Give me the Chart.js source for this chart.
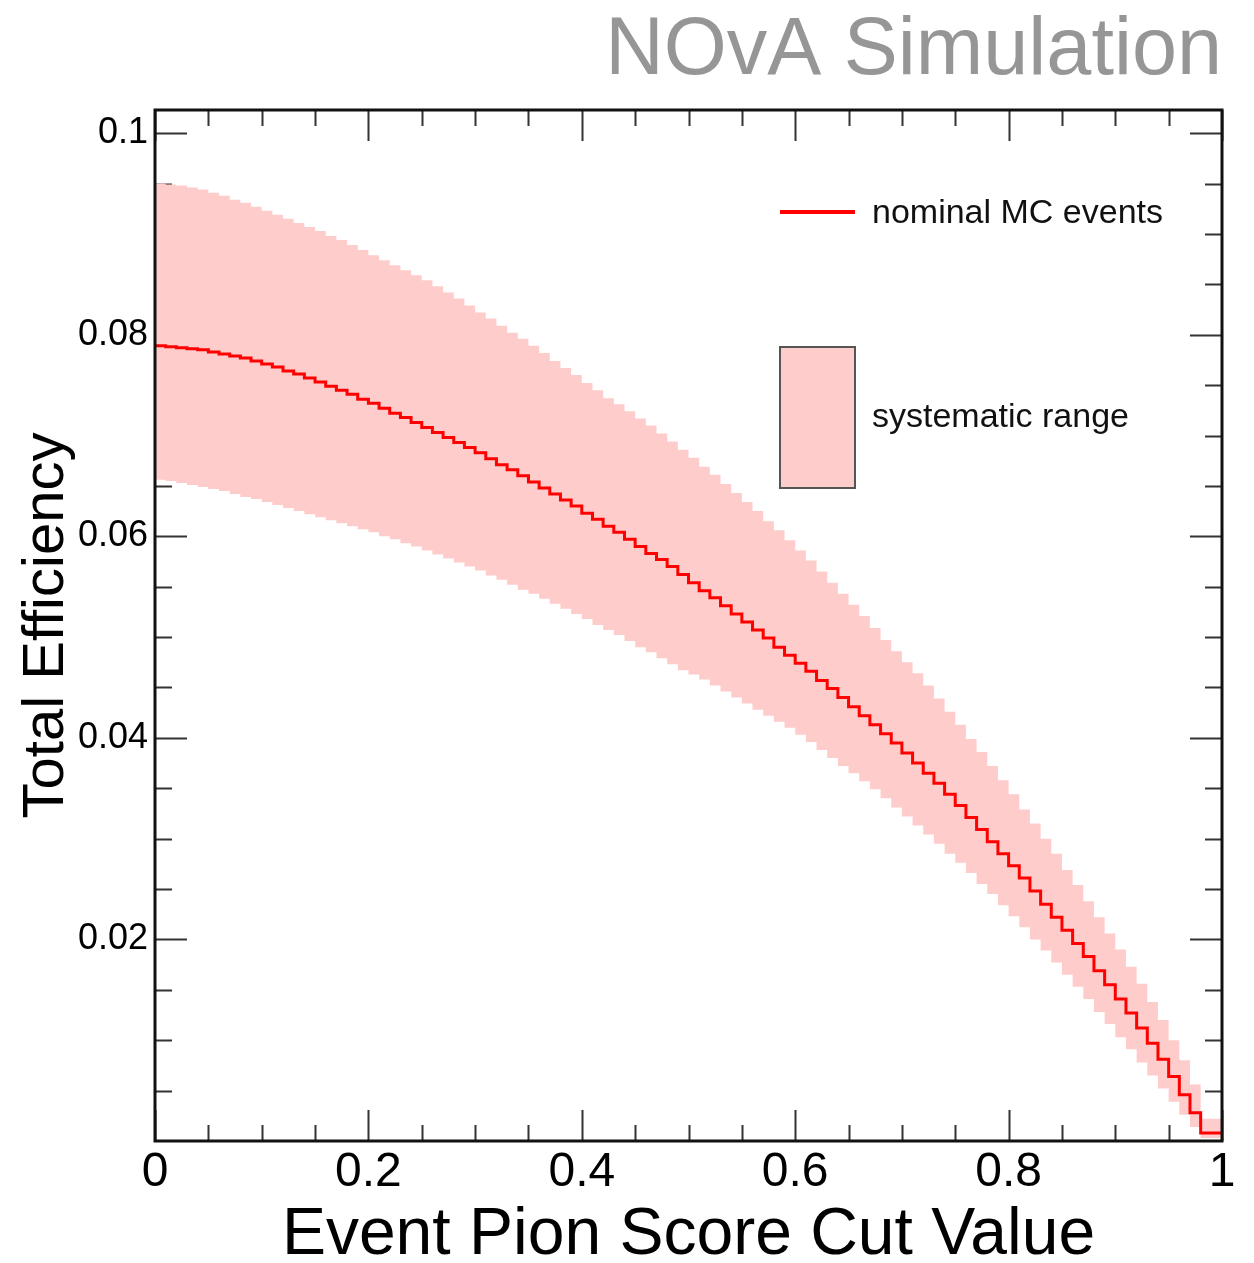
<!DOCTYPE html>
<html>
<head>
<meta charset="utf-8">
<title>NOvA Simulation - Total Efficiency</title>
<script src="https://cdn.jsdelivr.net/npm/chart.js@4.4.1/dist/chart.umd.min.js"></script>
<style>
  html, body { margin: 0; padding: 0; background: #fff; }
  #wrap { width: 1254px; height: 1263px; }
</style>
</head>
<body>
<div id="wrap"><canvas id="effChart" width="1254" height="1263"></canvas></div>
<script>
/* Total efficiency vs event pion score cut (100 bins, 0..1) */

const nBins = 100;
const binWidth = 0.01;

// nominal MC events, one value per bin
const nominal = [
  0.0789, 0.0789, 0.0788, 0.0787, 0.0786, 0.0785, 0.0783, 0.0781, 0.0779, 0.0777,
  0.0774, 0.0771, 0.0768, 0.0764, 0.0761, 0.0757, 0.0753, 0.0749, 0.0745, 0.0741,
  0.0736, 0.0732, 0.0727, 0.0722, 0.0718, 0.0713, 0.0708, 0.0703, 0.0698, 0.0693,
  0.0688, 0.0683, 0.0677, 0.0671, 0.0666, 0.0660, 0.0654, 0.0648, 0.0642, 0.0636,
  0.0630, 0.0623, 0.0617, 0.0610, 0.0604, 0.0597, 0.0590, 0.0583, 0.0577, 0.0570,
  0.0562, 0.0554, 0.0546, 0.0539, 0.0531, 0.0523, 0.0515, 0.0507, 0.0499, 0.0490,
  0.0482, 0.0474, 0.0466, 0.0457, 0.0449, 0.0440, 0.0431, 0.0422, 0.0413, 0.0404,
  0.0395, 0.0385, 0.0375, 0.0365, 0.0355, 0.0344, 0.0333, 0.0321, 0.0309, 0.0297,
  0.0285, 0.0273, 0.0261, 0.0248, 0.0235, 0.0222, 0.0209, 0.0196, 0.0183, 0.0169,
  0.0155, 0.0141, 0.0127, 0.0112, 0.0097, 0.0081, 0.0064, 0.0046, 0.0028, 0.0008
];

// systematic range, upper edge
const sysUpper = [
  0.0950, 0.0950, 0.0949, 0.0948, 0.0946, 0.0944, 0.0941, 0.0938, 0.0934, 0.0931,
  0.0927, 0.0923, 0.0919, 0.0915, 0.0911, 0.0907, 0.0903, 0.0898, 0.0894, 0.0889,
  0.0884, 0.0879, 0.0874, 0.0869, 0.0864, 0.0859, 0.0854, 0.0848, 0.0842, 0.0836,
  0.0829, 0.0822, 0.0816, 0.0809, 0.0802, 0.0796, 0.0789, 0.0782, 0.0774, 0.0767,
  0.0760, 0.0752, 0.0745, 0.0737, 0.0731, 0.0724, 0.0717, 0.0710, 0.0702, 0.0694,
  0.0686, 0.0678, 0.0669, 0.0661, 0.0652, 0.0643, 0.0634, 0.0625, 0.0615, 0.0606,
  0.0596, 0.0586, 0.0576, 0.0565, 0.0554, 0.0543, 0.0532, 0.0521, 0.0509, 0.0497,
  0.0486, 0.0475, 0.0464, 0.0452, 0.0439, 0.0426, 0.0413, 0.0399, 0.0386, 0.0372,
  0.0358, 0.0344, 0.0329, 0.0315, 0.0300, 0.0285, 0.0269, 0.0254, 0.0238, 0.0222,
  0.0206, 0.0190, 0.0173, 0.0156, 0.0138, 0.0120, 0.0100, 0.0080, 0.0056, 0.0022
];

// systematic range, lower edge
const sysLower = [
  0.0657, 0.0656, 0.0655, 0.0653, 0.0651, 0.0649, 0.0647, 0.0645, 0.0642, 0.0639,
  0.0637, 0.0634, 0.0631, 0.0628, 0.0625, 0.0622, 0.0619, 0.0616, 0.0613, 0.0610,
  0.0607, 0.0604, 0.0600, 0.0597, 0.0593, 0.0590, 0.0586, 0.0582, 0.0578, 0.0574,
  0.0570, 0.0566, 0.0561, 0.0557, 0.0552, 0.0547, 0.0543, 0.0538, 0.0533, 0.0528,
  0.0523, 0.0518, 0.0512, 0.0507, 0.0502, 0.0496, 0.0490, 0.0485, 0.0479, 0.0473,
  0.0467, 0.0463, 0.0458, 0.0452, 0.0446, 0.0440, 0.0434, 0.0428, 0.0422, 0.0416,
  0.0410, 0.0403, 0.0396, 0.0388, 0.0380, 0.0372, 0.0365, 0.0357, 0.0349, 0.0340,
  0.0331, 0.0322, 0.0313, 0.0304, 0.0295, 0.0285, 0.0276, 0.0266, 0.0255, 0.0245,
  0.0234, 0.0223, 0.0212, 0.0200, 0.0189, 0.0177, 0.0165, 0.0153, 0.0141, 0.0128,
  0.0116, 0.0103, 0.0091, 0.0078, 0.0065, 0.0052, 0.0039, 0.0026, 0.0014, 0.0003
];

const xMajorTicks = [0, 0.2, 0.4, 0.6, 0.8, 1];
const xMinorTicks = [0.05, 0.1, 0.15, 0.25, 0.3, 0.35, 0.45, 0.5, 0.55, 0.65, 0.7, 0.75, 0.85, 0.9, 0.95];
const yMajorTicks = [0.02, 0.04, 0.06, 0.08, 0.1];
const yMinorTicks = [0.005, 0.01, 0.015, 0.025, 0.03, 0.035, 0.045, 0.05, 0.055, 0.065, 0.07, 0.075, 0.085, 0.09, 0.095];

const seriesLabels = ['nominal MC events', 'systematic range'];
const FONT = '"Liberation Sans", Arial, Helvetica, sans-serif';
const BAND = '#ffcccc';
const RED = '#ff0000';

// histogram -> step points (left edge of each bin + closing edge)
function toSteps(vals) {
  const pts = vals.map((v, i) => ({ x: i * binWidth, y: v }));
  pts.push({ x: nBins * binWidth, y: vals[vals.length - 1] });
  return pts;
}

// ROOT style ticks inside the frame, on all four sides
const rootTicks = {
  id: 'rootTicks',
  beforeDatasetsDraw(chart) {
    const { ctx, chartArea: a, scales: { x, y } } = chart;
    ctx.save();
    ctx.strokeStyle = '#333';
    ctx.lineWidth = 2;
    ctx.beginPath();
    const xt = (list, len) => list.forEach(v => {
      const px = Math.round(x.getPixelForValue(v)) + 0.5;
      ctx.moveTo(px, a.bottom); ctx.lineTo(px, a.bottom - len);
      ctx.moveTo(px, a.top); ctx.lineTo(px, a.top + len);
    });
    const yt = (list, len) => list.forEach(v => {
      const py = Math.round(y.getPixelForValue(v)) + 0.5;
      ctx.moveTo(a.left, py); ctx.lineTo(a.left + len, py);
      ctx.moveTo(a.right, py); ctx.lineTo(a.right - len, py);
    });
    xt(xMajorTicks, 31); xt(xMinorTicks, 16);
    yt(yMajorTicks, 32); yt(yMinorTicks, 17);
    ctx.stroke();
    ctx.restore();
  },
  afterDatasetsDraw(chart) {
    const { ctx, chartArea: a } = chart;
    ctx.save();
    ctx.strokeStyle = '#111';
    ctx.lineWidth = 3;
    ctx.strokeRect(a.left, a.top, a.right - a.left, a.bottom - a.top);
    ctx.restore();
  }
};

// legend drawn inside the frame, like the TLegend of the original
const rootLegend = {
  id: 'rootLegend',
  afterDraw(chart) {
    const { ctx, chartArea: a } = chart;
    const x0 = a.left + 625, x1 = a.left + 700, tx = a.left + 717;
    ctx.save();
    ctx.strokeStyle = RED;
    ctx.lineWidth = 4;
    ctx.beginPath();
    ctx.moveTo(x0, a.top + 102); ctx.lineTo(x1, a.top + 102);
    ctx.stroke();
    ctx.fillStyle = BAND;
    ctx.fillRect(x0, a.top + 237, x1 - x0, 141);
    ctx.strokeStyle = '#555';
    ctx.lineWidth = 2;
    ctx.strokeRect(x0, a.top + 237, x1 - x0, 141);
    ctx.fillStyle = '#111';
    ctx.font = '34px ' + FONT;
    ctx.textBaseline = 'middle';
    ctx.textAlign = 'left';
    ctx.fillText(seriesLabels[0], tx, a.top + 104);
    ctx.fillText(seriesLabels[1], tx, a.top + 308);
    ctx.restore();
  }
};

const ctx = document.getElementById('effChart').getContext('2d');
const chart = new Chart(ctx, {
  type: 'line',
  data: {
    datasets: [
      {
        label: seriesLabels[0],
        data: toSteps(nominal),
        stepped: 'after',
        borderColor: RED,
        borderWidth: 3,
        pointRadius: 0,
        fill: false
      },
      {
        label: seriesLabels[1],
        data: toSteps(sysUpper),
        stepped: 'after',
        borderWidth: 0,
        borderColor: 'rgba(0,0,0,0)',
        backgroundColor: BAND,
        pointRadius: 0,
        fill: '+1'
      },
      {
        label: 'lower',
        data: toSteps(sysLower),
        stepped: 'after',
        borderWidth: 0,
        borderColor: 'rgba(0,0,0,0)',
        pointRadius: 0,
        fill: false
      }
    ]
  },
  options: {
    responsive: false,
    devicePixelRatio: 1,
    animation: false,
    layout: { padding: { left: 0, right: 32, top: 0, bottom: 0 } },
    plugins: {
      legend: { display: false },
      tooltip: { enabled: false },
      title: {
        display: true,
        text: 'NOvA Simulation',
        align: 'end',
        color: '#969696',
        font: { family: FONT, size: 81, weight: 'normal', lineHeight: 1 },
        padding: { top: 11, bottom: 18 }
      }
    },
    scales: {
      x: {
        type: 'linear',
        min: 0,
        max: 1,
        afterBuildTicks: s => { s.ticks = xMajorTicks.map(v => ({ value: v })); },
        afterFit: s => { s.height = 122; },
        grid: { display: false, drawTicks: false },
        border: { display: false },
        ticks: {
          color: '#000',
          padding: 3,
          maxRotation: 0,
          font: { family: FONT, size: 48 },
          callback: v => String(v)
        },
        title: {
          display: true,
          text: 'Event Pion Score Cut Value',
          color: '#000',
          font: { family: FONT, size: 66, lineHeight: 1 },
          padding: { top: 0, bottom: -6 }
        }
      },
      y: {
        type: 'linear',
        min: 0,
        max: 0.1023,
        afterBuildTicks: s => { s.ticks = yMajorTicks.map(v => ({ value: v })); },
        afterFit: s => { s.width = 155; },
        grid: { display: false, drawTicks: false },
        border: { display: false },
        ticks: {
          color: '#000',
          padding: 7,
          font: { family: FONT, size: 36 },
          callback: v => String(v)
        },
        title: {
          display: true,
          text: 'Total Efficiency',
          color: '#000',
          font: { family: FONT, size: 58, lineHeight: 1 },
          padding: { top: 18, bottom: 0 }
        }
      }
    }
  },
  plugins: [rootTicks, rootLegend]
});
</script>
</body>
</html>
